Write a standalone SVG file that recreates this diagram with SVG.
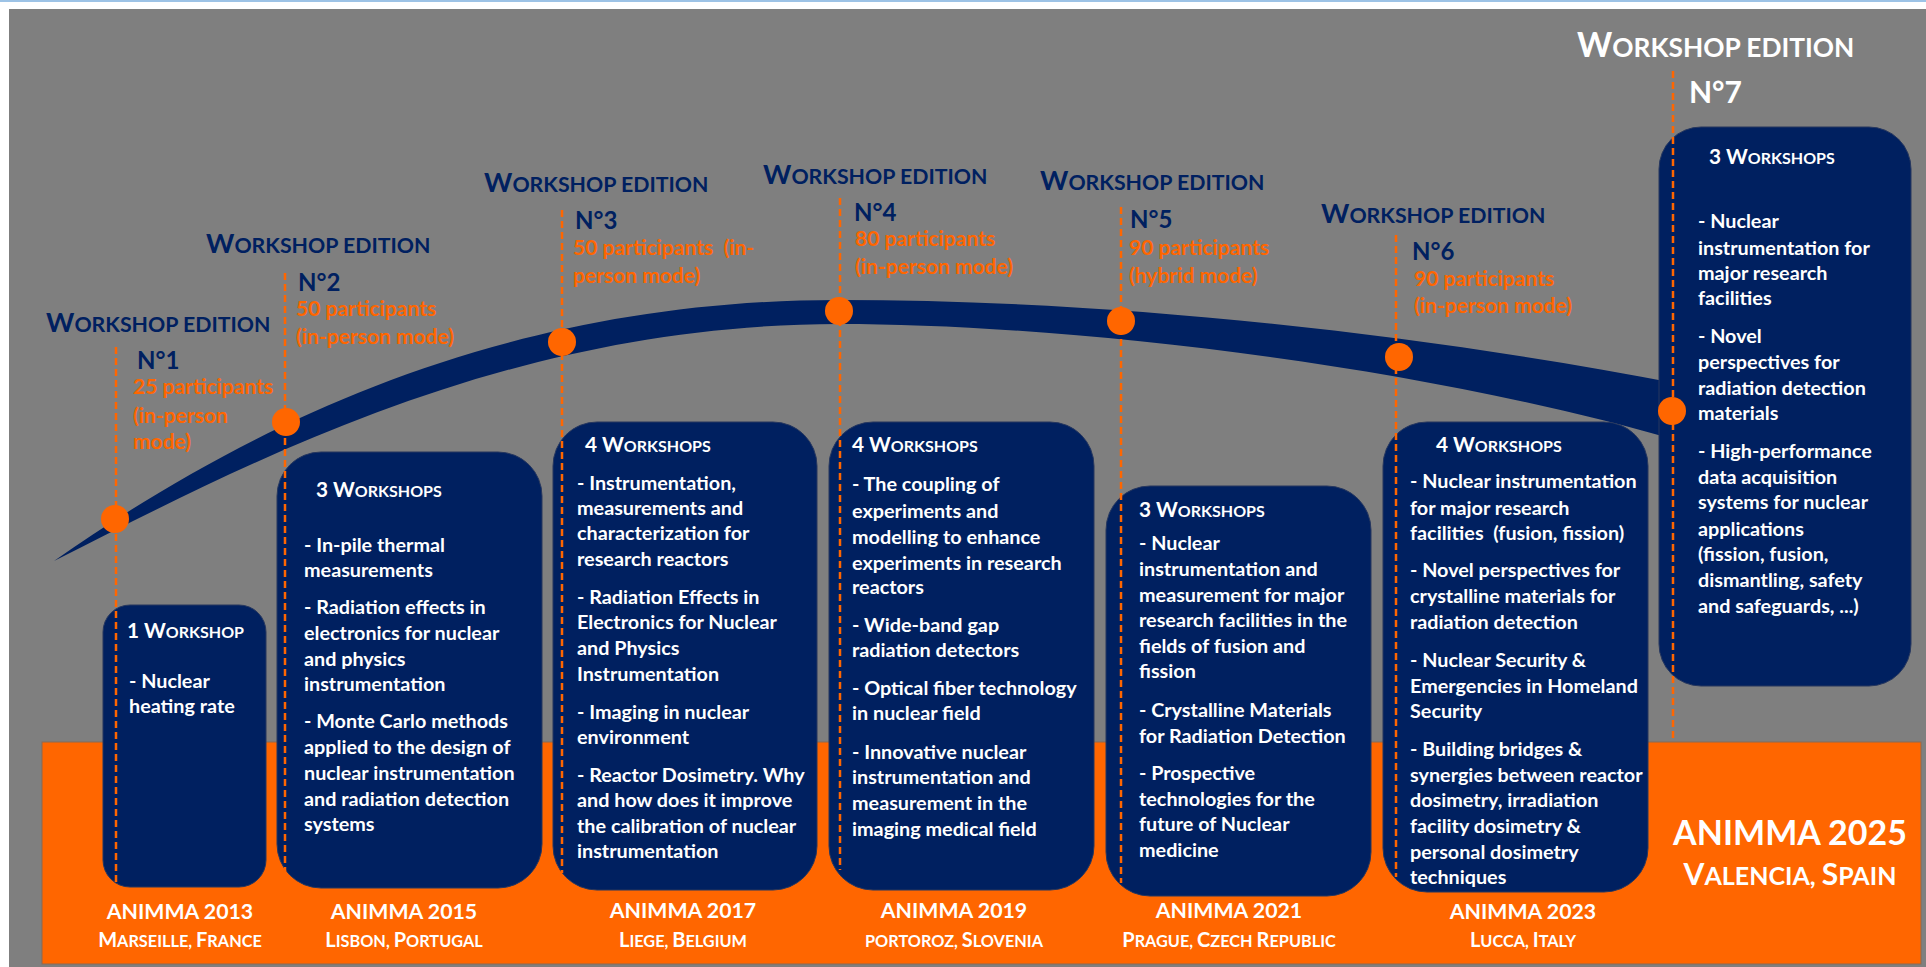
<svg xmlns="http://www.w3.org/2000/svg" width="1926" height="967" viewBox="0 0 1926 967">
<style>
text{font-family:Lato,"Liberation Sans",sans-serif;font-weight:bold}
.box{fill:#002060;stroke:#26375f;stroke-width:1}
.body{fill:#fff;font-size:19.8px}
.wk{fill:#fff;font-size:16px}
.wk .b{font-size:20.8px}
.we{fill:#002060;font-size:21.3px}
.we .b{font-size:27px}
.no{fill:#002060;font-size:24px}
.pa{fill:#FF6600;font-size:21px}
.an{fill:#fff;font-size:21.3px;text-anchor:middle}
.ci{fill:#fff;font-size:16.3px;text-anchor:middle}
.ci .b{font-size:20px}
.dash{stroke:#FF6600;stroke-width:2.5;stroke-dasharray:7 4;fill:none}
.dot{fill:#FF6600}
</style>
<rect x="0" y="0" width="1926" height="967" fill="#fff"/>
<rect x="0" y="0" width="1926" height="2" fill="#9DC3E6"/>
<rect x="9" y="9" width="1917" height="958" fill="#7F7F7F"/>
<rect x="42" y="742" width="1879" height="222" fill="#FF6600" stroke="#8a6a55" stroke-width="1"/>

<g id="timeline">
<path d="M54,561 C234,435 489,300 839,300 C1100,300 1400,330 1680,384 L1680,441 C1400,360 1050,324 839,324 C509,324 250,462 54,561 Z" fill="#002060"/>
</g>

<g id="node-ed1">
<rect class="box" x="103" y="605" width="163" height="282" rx="27"/>
<text class="wk" x="127" y="638"><tspan class="b">1 W</tspan>ORKSHOP</text>
<text class="body"><tspan x="129" y="688">- Nuclear</tspan><tspan x="129" y="713">heating rate</tspan></text>
</g>
<g id="node-ed2">
<rect class="box" x="277" y="452" width="265" height="436" rx="44"/>
<text class="wk" x="316" y="497"><tspan class="b">3 W</tspan>ORKSHOPS</text>
<text class="body"><tspan x="304" y="552">- In-pile thermal</tspan><tspan x="304" y="577">measurements</tspan><tspan x="304" y="614">- Radiation effects in</tspan><tspan x="304" y="640">electronics for nuclear</tspan><tspan x="304" y="666">and physics</tspan><tspan x="304" y="691">instrumentation</tspan><tspan x="304" y="728">- Monte Carlo methods</tspan><tspan x="304" y="754">applied to the design of</tspan><tspan x="304" y="780">nuclear instrumentation</tspan><tspan x="304" y="806">and radiation detection</tspan><tspan x="304" y="831">systems</tspan></text>
</g>
<g id="node-ed3">
<rect class="box" x="553" y="422" width="264" height="468" rx="44"/>
<text class="wk" x="585" y="452"><tspan class="b">4 W</tspan>ORKSHOPS</text>
<text class="body"><tspan x="577" y="490">- Instrumentation,</tspan><tspan x="577" y="515">measurements and</tspan><tspan x="577" y="540">characterization for</tspan><tspan x="577" y="566">research reactors</tspan><tspan x="577" y="604">- Radiation Effects in</tspan><tspan x="577" y="629">Electronics for Nuclear</tspan><tspan x="577" y="655">and Physics</tspan><tspan x="577" y="681">Instrumentation</tspan><tspan x="577" y="719">- Imaging in nuclear</tspan><tspan x="577" y="744">environment</tspan><tspan x="577" y="782">- Reactor Dosimetry. Why</tspan><tspan x="577" y="807">and how does it improve</tspan><tspan x="577" y="833">the calibration of nuclear</tspan><tspan x="577" y="858">instrumentation</tspan></text>
</g>
<g id="node-ed4">
<rect class="box" x="829" y="422" width="265" height="468" rx="44"/>
<text class="wk" x="852" y="452"><tspan class="b">4 W</tspan>ORKSHOPS</text>
<text class="body"><tspan x="852" y="491">- The coupling of</tspan><tspan x="852" y="518">experiments and</tspan><tspan x="852" y="544">modelling to enhance</tspan><tspan x="852" y="570">experiments in research</tspan><tspan x="852" y="594">reactors</tspan><tspan x="852" y="632">- Wide-band gap</tspan><tspan x="852" y="657">radiation detectors</tspan><tspan x="852" y="695">- Optical fiber technology</tspan><tspan x="852" y="720">in nuclear field</tspan><tspan x="852" y="759">- Innovative nuclear</tspan><tspan x="852" y="784">instrumentation and</tspan><tspan x="852" y="810">measurement in the</tspan><tspan x="852" y="836">imaging medical field</tspan></text>
</g>
<g id="node-ed5">
<rect class="box" x="1106" y="486" width="265" height="410" rx="44"/>
<text class="wk" x="1139" y="517"><tspan class="b">3 W</tspan>ORKSHOPS</text>
<text class="body"><tspan x="1139" y="550">- Nuclear</tspan><tspan x="1139" y="576">instrumentation and</tspan><tspan x="1139" y="602">measurement for major</tspan><tspan x="1139" y="627">research facilities in the</tspan><tspan x="1139" y="653">fields of fusion and</tspan><tspan x="1139" y="678">fission</tspan><tspan x="1139" y="717">- Crystalline Materials</tspan><tspan x="1139" y="743">for Radiation Detection</tspan><tspan x="1139" y="780">- Prospective</tspan><tspan x="1139" y="806">technologies for the</tspan><tspan x="1139" y="831">future of Nuclear</tspan><tspan x="1139" y="857">medicine</tspan></text>
</g>
<g id="node-ed6">
<rect class="box" x="1383" y="422" width="265" height="470" rx="44"/>
<text class="wk" x="1436" y="452"><tspan class="b">4 W</tspan>ORKSHOPS</text>
<text class="body"><tspan x="1410" y="488">- Nuclear instrumentation</tspan><tspan x="1410" y="515">for major research</tspan><tspan x="1410" y="540">facilities&#160; (fusion, fission)</tspan><tspan x="1410" y="577">- Novel perspectives for</tspan><tspan x="1410" y="603">crystalline materials for</tspan><tspan x="1410" y="629">radiation detection</tspan><tspan x="1410" y="667">- Nuclear Security &amp;</tspan><tspan x="1410" y="693">Emergencies in Homeland</tspan><tspan x="1410" y="718">Security</tspan><tspan x="1410" y="756">- Building bridges &amp;</tspan><tspan x="1410" y="782">synergies between reactor</tspan><tspan x="1410" y="807">dosimetry, irradiation</tspan><tspan x="1410" y="833">facility dosimetry &amp;</tspan><tspan x="1410" y="859">personal dosimetry</tspan><tspan x="1410" y="884">techniques</tspan></text>
</g>
<g id="node-ed7">
<rect class="box" x="1659" y="127" width="252" height="559" rx="42"/>
<text class="wk" x="1709" y="164"><tspan class="b">3 W</tspan>ORKSHOPS</text>
<text class="body"><tspan x="1698" y="228">- Nuclear</tspan><tspan x="1698" y="255">instrumentation for</tspan><tspan x="1698" y="280">major research</tspan><tspan x="1698" y="305">facilities</tspan><tspan x="1698" y="343">- Novel</tspan><tspan x="1698" y="369">perspectives for</tspan><tspan x="1698" y="395">radiation detection</tspan><tspan x="1698" y="420">materials</tspan><tspan x="1698" y="458">- High-performance</tspan><tspan x="1698" y="484">data acquisition</tspan><tspan x="1698" y="509">systems for nuclear</tspan><tspan x="1698" y="536">applications</tspan><tspan x="1698" y="561">(fission, fusion,</tspan><tspan x="1698" y="587">dismantling, safety</tspan><tspan x="1698" y="613">and safeguards, ...)</tspan></text>
</g>

<g id="connectors">
<line class="dash" x1="116" y1="347" x2="116" y2="885"/>
<line class="dash" x1="285" y1="273" x2="285" y2="873"/>
<line class="dash" x1="562" y1="210" x2="562" y2="873"/>
<line class="dash" x1="840" y1="198" x2="840" y2="870"/>
<line class="dash" x1="1121" y1="207" x2="1121" y2="883"/>
<line class="dash" x1="1396" y1="235" x2="1396" y2="877"/>
<line class="dash" x1="1673" y1="71" x2="1673" y2="742"/>
<circle class="dot" cx="115" cy="519" r="14"/>
<circle class="dot" cx="286" cy="422" r="14"/>
<circle class="dot" cx="562" cy="342" r="14"/>
<circle class="dot" cx="839" cy="311" r="14"/>
<circle class="dot" cx="1121" cy="321" r="14"/>
<circle class="dot" cx="1399" cy="357" r="14"/>
<circle class="dot" cx="1672" cy="411" r="14"/>
</g>

<g id="label-ed1">
<text class="we" x="46" y="332"><tspan class="b">W</tspan>ORKSHOP EDITION</text>
<text class="no" x="137" y="369">N°1</text>
<text class="pa"><tspan x="133" y="394">25 participants</tspan><tspan x="133" y="423">(in-person</tspan><tspan x="133" y="449">mode)</tspan></text>
<text class="an" x="180" y="919">ANIMMA 2013</text>
<text class="ci" x="180" y="947"><tspan class="b">M</tspan>ARSEILLE, <tspan class="b">F</tspan>RANCE</text>
</g>
<g id="label-ed2">
<text class="we" x="206" y="253"><tspan class="b">W</tspan>ORKSHOP EDITION</text>
<text class="no" x="298" y="291">N°2</text>
<text class="pa"><tspan x="296" y="316">50 participants</tspan><tspan x="296" y="344">(in-person mode)</tspan></text>
<text class="an" x="404" y="919">ANIMMA 2015</text>
<text class="ci" x="404" y="947"><tspan class="b">L</tspan>ISBON, <tspan class="b">P</tspan>ORTUGAL</text>
</g>
<g id="label-ed3">
<text class="we" x="484" y="192"><tspan class="b">W</tspan>ORKSHOP EDITION</text>
<text class="no" x="575" y="229">N°3</text>
<text class="pa"><tspan x="573" y="255">50 participants&#160; (in-</tspan><tspan x="573" y="283">person mode)</tspan></text>
<text class="an" x="683" y="918">ANIMMA 2017</text>
<text class="ci" x="683" y="947"><tspan class="b">L</tspan>IEGE, <tspan class="b">B</tspan>ELGIUM</text>
</g>
<g id="label-ed4">
<text class="we" x="763" y="184"><tspan class="b">W</tspan>ORKSHOP EDITION</text>
<text class="no" x="854" y="221">N°4</text>
<text class="pa"><tspan x="855" y="246">80 participants</tspan><tspan x="855" y="274">(in-person mode)</tspan></text>
<text class="an" x="954" y="918">ANIMMA 2019</text>
<text class="ci" x="954" y="947">PORTOROZ, <tspan class="b">S</tspan>LOVENIA</text>
</g>
<g id="label-ed5">
<text class="we" x="1040" y="190"><tspan class="b">W</tspan>ORKSHOP EDITION</text>
<text class="no" x="1130" y="228">N°5</text>
<text class="pa"><tspan x="1129" y="255">90 participants</tspan><tspan x="1129" y="283">(hybrid mode)</tspan></text>
<text class="an" x="1229" y="918">ANIMMA 2021</text>
<text class="ci" x="1229" y="947"><tspan class="b">P</tspan>RAGUE, <tspan class="b">C</tspan>ZECH <tspan class="b">R</tspan>EPUBLIC</text>
</g>
<g id="label-ed6">
<text class="we" x="1321" y="223"><tspan class="b">W</tspan>ORKSHOP EDITION</text>
<text class="no" x="1412" y="260">N°6</text>
<text class="pa"><tspan x="1414" y="286">90 participants</tspan><tspan x="1414" y="313">(in-person mode)</tspan></text>
<text class="an" x="1523" y="919">ANIMMA 2023</text>
<text class="ci" x="1523" y="947"><tspan class="b">L</tspan>UCCA, <tspan class="b">I</tspan>TALY</text>
</g>
<g id="label-ed7">
<text x="1577" y="57" fill="#fff" font-size="26.3"><tspan font-size="33.6">W</tspan>ORKSHOP EDITION</text>
<text x="1689" y="103" fill="#fff" font-size="30">N°7</text>
<text x="1790" y="845" fill="#fff" font-size="34" text-anchor="middle">ANIMMA 2025</text>
<text x="1790" y="885" fill="#fff" font-size="25" text-anchor="middle"><tspan font-size="30">V</tspan>ALENCIA, <tspan font-size="30">S</tspan>PAIN</text>
</g>
</svg>
